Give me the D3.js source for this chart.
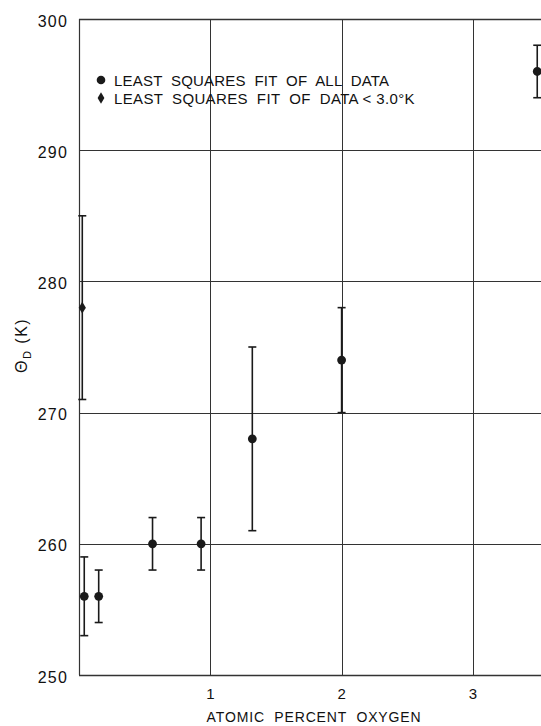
<!DOCTYPE html>
<html>
<head>
<meta charset="utf-8">
<script src="https://cdn.jsdelivr.net/npm/d3@7/dist/d3.min.js"></script>
<style>
  html, body { margin: 0; padding: 0; background: #fff; }
  svg { display: block; }
  text { font-family: "Liberation Sans", Arial, sans-serif; fill: #111; white-space: pre; }
</style>
</head>
<body>
<svg id="chart" width="541" height="726"></svg>
<script>
// Debye temperature vs. oxygen content
const allFitX   = [0.04, 0.15, 0.56, 0.93, 1.32, 2.0, 3.49];
const allFitY   = [256, 256, 260, 260, 268, 274, 296];
const allFitErr = [3, 2, 2, 2, 7, 4, 2];

const lowFitX   = [0.025];
const lowFitY   = [278];
const lowFitErr = [7];

const yTicks = [250, 260, 270, 280, 290, 300];
const xTicks = [1, 2, 3];
const legendLabels = ["LEAST  SQUARES  FIT  OF  ALL  DATA", "LEAST  SQUARES  FIT  OF  DATA < 3.0\u00B0K"];

(function () {
  const svg = d3.select("#chart");
  const W = 541, H = 726;
  const pl = 79, pt = 19, pb = 675, pr = 541;

  const x = d3.scaleLinear().domain([0, (pr - pl) / 131.3]).range([pl, pr]);
  const y = d3.scaleLinear().domain([250, 300]).range([pb, pt]);

  svg.append("rect").attr("width", W).attr("height", H).attr("fill", "#fff");

  const ink = "#1a1a1a";

  // grid lines
  const grid = svg.append("g").attr("stroke", "#333").attr("stroke-width", 1).attr("fill", "none");
  grid.selectAll("line.h").data(yTicks).join("line")
    .attr("x1", pl).attr("x2", pr)
    .attr("y1", d => Math.round(y(d)) + 0.5).attr("y2", d => Math.round(y(d)) + 0.5)
    .attr("stroke-width", d => (d === 250 || d === 300) ? 1.4 : 1);
  grid.selectAll("line.v").data(xTicks).join("line")
    .attr("x1", d => Math.round(x(d)) + 0.5).attr("x2", d => Math.round(x(d)) + 0.5)
    .attr("y1", pt).attr("y2", pb);
  grid.append("line")
    .attr("x1", pl + 0.5).attr("x2", pl + 0.5).attr("y1", pt).attr("y2", pb)
    .attr("stroke-width", 1.2);

  // y tick labels
  svg.append("g").selectAll("text").data(yTicks).join("text")
    .attr("x", 68).attr("y", d => y(d) + 7.5)
    .attr("text-anchor", "end")
    .attr("font-size", 16).attr("letter-spacing", 1.2)
    .text(d => d);

  // x tick labels
  svg.append("g").selectAll("text").data(xTicks).join("text")
    .attr("x", d => x(d)).attr("y", 699)
    .attr("text-anchor", "middle")
    .attr("font-size", 15)
    .text(d => d);

  // axis titles
  svg.append("text")
    .attr("x", 314).attr("y", 722)
    .attr("text-anchor", "middle")
    .attr("font-size", 14).attr("letter-spacing", 0.85)
    .text("ATOMIC  PERCENT  OXYGEN");

  const yt = svg.append("text")
    .attr("transform", "translate(27,373) rotate(-90)")
    .attr("font-size", 16).attr("letter-spacing", 1.5);
  yt.append("tspan").text("\u0398");
  yt.append("tspan").attr("dy", 4).attr("font-size", 11).text("D");
  yt.append("tspan").attr("dy", -4).text(" (K)");

  // error bars
  function errorBars(g, xs, ys, es) {
    const cap = 4;
    const sel = g.selectAll("g.eb").data(xs.map((d, i) => ({x: d, y: ys[i], e: es[i]}))).join("g")
      .attr("stroke", ink).attr("stroke-width", 1.6);
    sel.append("line")
      .attr("x1", d => x(d.x)).attr("x2", d => x(d.x))
      .attr("y1", d => y(d.y + d.e)).attr("y2", d => y(d.y - d.e));
    sel.append("line")
      .attr("x1", d => x(d.x) - cap).attr("x2", d => x(d.x) + cap)
      .attr("y1", d => y(d.y + d.e)).attr("y2", d => y(d.y + d.e));
    sel.append("line")
      .attr("x1", d => x(d.x) - cap).attr("x2", d => x(d.x) + cap)
      .attr("y1", d => y(d.y - d.e)).attr("y2", d => y(d.y - d.e));
  }

  const marks = svg.append("g");
  errorBars(marks.append("g"), lowFitX, lowFitY, lowFitErr);
  errorBars(marks.append("g"), allFitX, allFitY, allFitErr);

  const diamond = (cx, cy, w, h) => `M${cx},${cy - h}L${cx + w},${cy}L${cx},${cy + h}L${cx - w},${cy}Z`;

  marks.append("g").selectAll("circle").data(allFitX).join("circle")
    .attr("cx", d => x(d)).attr("cy", (d, i) => y(allFitY[i]))
    .attr("r", 4.4).attr("fill", ink);

  marks.append("g").selectAll("path").data(lowFitX).join("path")
    .attr("d", (d, i) => diamond(x(d), y(lowFitY[i]), 3.6, 5.8))
    .attr("fill", ink);

  // legend
  const lg = svg.append("g");
  lg.append("circle").attr("cx", 101).attr("cy", 80).attr("r", 4.3).attr("fill", ink);
  lg.append("path").attr("d", diamond(101, 98, 3.4, 5.8)).attr("fill", ink);
  lg.selectAll("text").data(legendLabels).join("text")
    .attr("x", 114).attr("y", (d, i) => 85.5 + i * 18)
    .attr("font-size", 15).attr("letter-spacing", (d, i) => i === 0 ? 0.2 : 0.35)
    .text(d => d);
})();
</script>
</body>
</html>
